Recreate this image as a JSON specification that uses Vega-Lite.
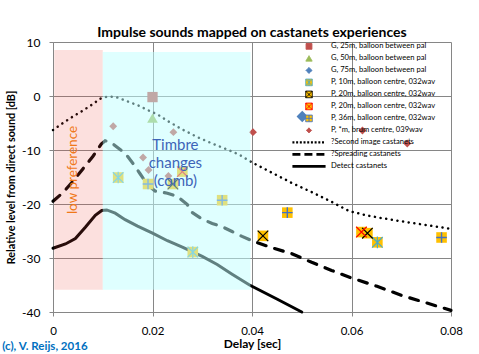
{
  "$schema": "https://vega.github.io/schema/vega-lite/v6.json",
  "width": 398,
  "height": 270,
  "autosize": {"type": "none"},
  "padding": {"left": 53, "top": 42, "right": 28, "bottom": 42},
  "title": {"text": "Impulse sounds mapped on castanets experiences", "font": "Lato", "fontSize": 14, "fontWeight": "bold", "color": "#000000", "anchor": "middle", "frame": "group", "offset": -4},
  "config": {
    "font": "Lato",
    "view": {"stroke": null},
    "axis": {"gridColor": "#868686", "gridWidth": 1, "gridOpacity": 1, "domainColor": "#868686", "tickColor": "#868686", "tickSize": 4, "labelFont": "Lato", "labelFontSize": 12, "labelColor": "#000000", "titleFont": "Lato", "titleFontSize": 12.5, "titleFontWeight": "bold", "titleColor": "#000000"}
  },
  "datasets": {
    "marks": [
      {"s": "G, 25m, balloon between pal", "x": 0.02, "y": -0.2},
      {"s": "G, 50m, balloon between pal", "x": 0.02, "y": -4.1},
      {"s": "G, 75m, balloon between pal", "x": 0.0501, "y": -3.8},
      {"s": "P, *m, brum centre, 039wav", "x": 0.0121, "y": -5.6},
      {"s": "P, *m, brum centre, 039wav", "x": 0.0242, "y": -6.7},
      {"s": "P, *m, brum centre, 039wav", "x": 0.0181, "y": -11.4},
      {"s": "P, *m, brum centre, 039wav", "x": 0.0192, "y": -13.7},
      {"s": "P, *m, brum centre, 039wav", "x": 0.0232, "y": -14.8},
      {"s": "P, *m, brum centre, 039wav", "x": 0.0402, "y": -6.7},
      {"s": "P, *m, brum centre, 039wav", "x": 0.0622, "y": -6.4},
      {"s": "P, *m, brum centre, 039wav", "x": 0.0712, "y": -8.8}
    ],
    "pmarks": [
      {"s": "P, 10m, balloon centre, 032wav", "x": 0.0131, "y": -15.1},
      {"s": "P, 10m, balloon centre, 032wav", "x": 0.0281, "y": -28.9},
      {"s": "P, 10m, balloon centre, 032wav", "x": 0.0652, "y": -27.1},
      {"s": "P, 20m, balloon centre, 032wav", "x": 0.0241, "y": -16.3},
      {"s": "P, 20m, balloon centre, 032wav", "x": 0.0422, "y": -25.9},
      {"s": "P, 20m, balloon centre, 032wav", "x": 0.0632, "y": -25.4},
      {"s": "P, 20m, balloon centre, 032wav ", "x": 0.026, "y": -14.0},
      {"s": "P, 20m, balloon centre, 032wav ", "x": 0.062, "y": -25.2},
      {"s": "P, 36m, balloon centre, 032wav", "x": 0.0191, "y": -16.3},
      {"s": "P, 36m, balloon centre, 032wav", "x": 0.034, "y": -19.3},
      {"s": "P, 36m, balloon centre, 032wav", "x": 0.0471, "y": -21.6},
      {"s": "P, 36m, balloon centre, 032wav", "x": 0.0781, "y": -26.2}
    ],
    "curves": [
      {"s": "?Second image castanets", "x": 0, "y": -6.3},
      {"s": "?Second image castanets", "x": 0.002, "y": -5.0},
      {"s": "?Second image castanets", "x": 0.004, "y": -3.8},
      {"s": "?Second image castanets", "x": 0.006, "y": -2.7},
      {"s": "?Second image castanets", "x": 0.008, "y": -1.5},
      {"s": "?Second image castanets", "x": 0.0095, "y": -0.5},
      {"s": "?Second image castanets", "x": 0.0105, "y": -0.2},
      {"s": "?Second image castanets", "x": 0.0115, "y": -0.1},
      {"s": "?Second image castanets", "x": 0.013, "y": -0.3},
      {"s": "?Second image castanets", "x": 0.015, "y": -1.0},
      {"s": "?Second image castanets", "x": 0.017, "y": -1.7},
      {"s": "?Second image castanets", "x": 0.019, "y": -2.6},
      {"s": "?Second image castanets", "x": 0.021, "y": -3.4},
      {"s": "?Second image castanets", "x": 0.023, "y": -4.6},
      {"s": "?Second image castanets", "x": 0.026, "y": -6.2},
      {"s": "?Second image castanets", "x": 0.029, "y": -7.6},
      {"s": "?Second image castanets", "x": 0.032, "y": -8.8},
      {"s": "?Second image castanets", "x": 0.035, "y": -9.9},
      {"s": "?Second image castanets", "x": 0.0375, "y": -10.9},
      {"s": "?Second image castanets", "x": 0.04, "y": -12.3},
      {"s": "?Second image castanets", "x": 0.044, "y": -14.2},
      {"s": "?Second image castanets", "x": 0.048, "y": -16.1},
      {"s": "?Second image castanets", "x": 0.052, "y": -17.8},
      {"s": "?Second image castanets", "x": 0.056, "y": -19.6},
      {"s": "?Second image castanets", "x": 0.0595, "y": -21.3},
      {"s": "?Second image castanets", "x": 0.063, "y": -22.1},
      {"s": "?Second image castanets", "x": 0.066, "y": -22.6},
      {"s": "?Second image castanets", "x": 0.07, "y": -23.2},
      {"s": "?Second image castanets", "x": 0.075, "y": -23.9},
      {"s": "?Second image castanets", "x": 0.08, "y": -24.6},
      {"s": "?Spreading castanets", "x": 0, "y": -19.5},
      {"s": "?Spreading castanets", "x": 0.002, "y": -17.9},
      {"s": "?Spreading castanets", "x": 0.004, "y": -15.8},
      {"s": "?Spreading castanets", "x": 0.006, "y": -13.5},
      {"s": "?Spreading castanets", "x": 0.008, "y": -11.2},
      {"s": "?Spreading castanets", "x": 0.0097, "y": -8.9},
      {"s": "?Spreading castanets", "x": 0.0105, "y": -8.3},
      {"s": "?Spreading castanets", "x": 0.0115, "y": -8.5},
      {"s": "?Spreading castanets", "x": 0.0125, "y": -9.2},
      {"s": "?Spreading castanets", "x": 0.0145, "y": -10.6},
      {"s": "?Spreading castanets", "x": 0.016, "y": -12.4},
      {"s": "?Spreading castanets", "x": 0.0175, "y": -14.4},
      {"s": "?Spreading castanets", "x": 0.019, "y": -16.4},
      {"s": "?Spreading castanets", "x": 0.0205, "y": -17.6},
      {"s": "?Spreading castanets", "x": 0.023, "y": -18.0},
      {"s": "?Spreading castanets", "x": 0.025, "y": -18.6},
      {"s": "?Spreading castanets", "x": 0.027, "y": -20.1},
      {"s": "?Spreading castanets", "x": 0.028, "y": -21.6},
      {"s": "?Spreading castanets", "x": 0.03, "y": -22.8},
      {"s": "?Spreading castanets", "x": 0.032, "y": -23.6},
      {"s": "?Spreading castanets", "x": 0.034, "y": -24.2},
      {"s": "?Spreading castanets", "x": 0.036, "y": -25.1},
      {"s": "?Spreading castanets", "x": 0.038, "y": -26.0},
      {"s": "?Spreading castanets", "x": 0.04, "y": -26.8},
      {"s": "?Spreading castanets", "x": 0.044, "y": -28.1},
      {"s": "?Spreading castanets", "x": 0.048, "y": -29.2},
      {"s": "?Spreading castanets", "x": 0.052, "y": -30.8},
      {"s": "?Spreading castanets", "x": 0.056, "y": -32.3},
      {"s": "?Spreading castanets", "x": 0.06, "y": -33.7},
      {"s": "?Spreading castanets", "x": 0.065, "y": -35.2},
      {"s": "?Spreading castanets", "x": 0.07, "y": -36.9},
      {"s": "?Spreading castanets", "x": 0.075, "y": -38.3},
      {"s": "?Spreading castanets", "x": 0.08, "y": -39.7},
      {"s": "Detect castanets", "x": 0, "y": -28.2},
      {"s": "Detect castanets", "x": 0.0025, "y": -27.4},
      {"s": "Detect castanets", "x": 0.0045, "y": -26.4},
      {"s": "Detect castanets", "x": 0.0065, "y": -24.3},
      {"s": "Detect castanets", "x": 0.0085, "y": -22.1},
      {"s": "Detect castanets", "x": 0.0098, "y": -21.2},
      {"s": "Detect castanets", "x": 0.0108, "y": -21.1},
      {"s": "Detect castanets", "x": 0.0125, "y": -21.7},
      {"s": "Detect castanets", "x": 0.0145, "y": -22.9},
      {"s": "Detect castanets", "x": 0.017, "y": -24.1},
      {"s": "Detect castanets", "x": 0.02, "y": -25.4},
      {"s": "Detect castanets", "x": 0.023, "y": -26.8},
      {"s": "Detect castanets", "x": 0.026, "y": -28.0},
      {"s": "Detect castanets", "x": 0.03, "y": -29.7},
      {"s": "Detect castanets", "x": 0.033, "y": -31.2},
      {"s": "Detect castanets", "x": 0.036, "y": -33.0},
      {"s": "Detect castanets", "x": 0.0395, "y": -35.0},
      {"s": "Detect castanets", "x": 0.045, "y": -37.6},
      {"s": "Detect castanets", "x": 0.05, "y": -40}
    ]
  },
  "encoding": {
    "x": {"field": "x", "type": "quantitative", "scale": {"domain": [0, 0.08], "nice": false, "zero": false},
      "axis": {"values": [0, 0.02, 0.04, 0.06, 0.08], "labelExpr": "'' + datum.value", "labelFontSize": 11.5, "labelPadding": 9, "titlePadding": 1.5, "titleFontSize": 12, "title": "Delay [sec]", "labelFlush": false}},
    "y": {"field": "y", "type": "quantitative", "scale": {"domain": [-40, 10], "nice": false, "zero": false},
      "axis": {"values": [-40, -30, -20, -10, 0, 10], "labelExpr": "'' + datum.value", "labelPadding": 9, "title": "Relative level from direct sound [dB]", "titleFontSize": 10.8, "titlePadding": 5}}
  },
  "layer": [
    {
      "data": {"name": "curves"},
      "transform": [{"filter": "datum.s == '?Second image castanets'"}],
      "mark": {"type": "line", "color": "#000000", "strokeWidth": 2.5, "strokeDash": [0.1, 5.6], "strokeCap": "round"}
    },
    {
      "data": {"name": "curves"},
      "transform": [{"filter": "datum.s == '?Spreading castanets'"}],
      "mark": {"type": "line", "color": "#000000", "strokeWidth": 3.2, "strokeDash": [9, 9], "strokeCap": "round"}
    },
    {
      "data": {"name": "curves"},
      "transform": [{"filter": "datum.s == 'Detect castanets'"}],
      "mark": {"type": "line", "color": "#000000", "strokeWidth": 3, "strokeCap": "round"}
    },
    {
      "data": {"name": "marks"},
      "transform": [{"filter": "datum.s == 'G, 25m, balloon between pal'"}],
      "mark": {"type": "point", "shape": "square", "filled": true, "color": "#C0504D", "size": 106, "opacity": 1}
    },
    {
      "data": {"name": "marks"},
      "transform": [{"filter": "datum.s == 'G, 50m, balloon between pal'"}],
      "mark": {"type": "point", "shape": "triangle-up", "filled": true, "color": "#9BBB59", "size": 115, "opacity": 1}
    },
    {
      "data": {"name": "marks"},
      "transform": [{"filter": "datum.s == 'G, 75m, balloon between pal'"}],
      "mark": {"type": "point", "shape": "diamond", "filled": true, "color": "#4F81BD", "size": 130, "opacity": 1}
    },
    {
      "data": {"name": "marks"},
      "transform": [{"filter": "datum.s == 'P, *m, brum centre, 039wav'"}],
      "mark": {"type": "point", "shape": "diamond", "filled": true, "color": "#C0504D", "size": 62, "opacity": 1}
    },
    {
      "data": {"name": "pmarks"},
      "mark": {"type": "point", "shape": "square", "filled": true, "color": "#FFC000", "size": 112, "opacity": 1}
    },
    {
      "data": {"name": "pmarks"},
      "transform": [{"filter": "datum.s == 'P, 10m, balloon centre, 032wav'"}],
      "mark": {"type": "point", "shape": "M-1,-1L1,1M1,-1L-1,1M0,-1.1L0,1.1", "filled": false, "color": "#4BACC6", "strokeWidth": 1.2, "size": 112, "opacity": 1}
    },
    {
      "data": {"name": "pmarks"},
      "transform": [{"filter": "datum.s == 'P, 20m, balloon centre, 032wav'"}],
      "mark": {"type": "point", "shape": "M-1,-1L1,1M1,-1L-1,1", "filled": false, "color": "#000000", "strokeWidth": 1.2, "size": 112, "opacity": 1}
    },
    {
      "data": {"name": "pmarks"},
      "transform": [{"filter": "datum.s == 'P, 20m, balloon centre, 032wav '"}],
      "mark": {"type": "point", "shape": "M-1,-1L1,1M1,-1L-1,1", "filled": false, "color": "#FF0000", "strokeWidth": 1.2, "size": 112, "opacity": 1}
    },
    {
      "data": {"name": "pmarks"},
      "transform": [{"filter": "datum.s == 'P, 36m, balloon centre, 032wav'"}],
      "mark": {"type": "point", "shape": "M0,-1L0,1M-1,0L1,0", "filled": false, "color": "#4472C4", "strokeWidth": 1.4, "size": 112, "opacity": 1}
    },
    {
      "data": {"name": "marks"},
      "transform": [{"filter": "false"}],
      "mark": {"type": "point", "opacity": 1},
      "encoding": {
        "shape": {"field": "s", "type": "nominal",
          "scale": {"domain": ["G, 25m, balloon between pal", "G, 50m, balloon between pal", "G, 75m, balloon between pal", "P, 10m, balloon centre, 032wav", "P, 20m, balloon centre, 032wav", "P, 20m, balloon centre, 032wav ", "P, 36m, balloon centre, 032wav", "P, *m, brum centre, 039wav", "?Second image castanets", "?Spreading castanets", "Detect castanets"],
            "range": ["square", "triangle-up", "diamond", "M-1,-1H1V1H-1ZM-0.8,-0.8L0.8,0.8M0.8,-0.8L-0.8,0.8M0,-1L0,1", "M-1,-1H1V1H-1ZM-1,-1L1,1M1,-1L-1,1", "M-1,-1H1V1H-1ZM-1,-1L1,1M1,-1L-1,1", "M-1,-1H1V1H-1ZM0,-1L0,1M-1,0L1,0", "diamond", "stroke", "stroke", "stroke"]},
          "legend": {
            "title": null, "orient": "none", "legendX": 238, "legendY": -1.5, "padding": 0, "rowPadding": 0, "clipHeight": 11.8,
            "labelOffset": 4, "labelFont": "Lato", "labelFontSize": 7.6, "labelColor": "#000000", "labelLimit": 300, "symbolOpacity": 1
          }},
        "fill": {"field": "s", "type": "nominal",
          "scale": {"domain": ["G, 25m, balloon between pal", "G, 50m, balloon between pal", "G, 75m, balloon between pal", "P, 10m, balloon centre, 032wav", "P, 20m, balloon centre, 032wav", "P, 20m, balloon centre, 032wav ", "P, 36m, balloon centre, 032wav", "P, *m, brum centre, 039wav", "?Second image castanets", "?Spreading castanets", "Detect castanets"],
            "range": ["#C0504D", "#9BBB59", "#4F81BD", "#FFC000", "#FFC000", "#FFC000", "#FFC000", "#C0504D", "transparent", "transparent", "transparent"]}},
        "stroke": {"field": "s", "type": "nominal",
          "scale": {"domain": ["G, 25m, balloon between pal", "G, 50m, balloon between pal", "G, 75m, balloon between pal", "P, 10m, balloon centre, 032wav", "P, 20m, balloon centre, 032wav", "P, 20m, balloon centre, 032wav ", "P, 36m, balloon centre, 032wav", "P, *m, brum centre, 039wav", "?Second image castanets", "?Spreading castanets", "Detect castanets"],
            "range": ["#C0504D", "#9BBB59", "#4F81BD", "#4BACC6", "#000000", "#FF0000", "#4472C4", "#C0504D", "#000000", "#000000", "#000000"]}},
        "size": {"field": "s", "type": "nominal",
          "scale": {"type": "ordinal", "domain": ["G, 25m, balloon between pal", "G, 50m, balloon between pal", "G, 75m, balloon between pal", "P, 10m, balloon centre, 032wav", "P, 20m, balloon centre, 032wav", "P, 20m, balloon centre, 032wav ", "P, 36m, balloon centre, 032wav", "P, *m, brum centre, 039wav", "?Second image castanets", "?Spreading castanets", "Detect castanets"],
            "range": [34, 40, 36, 44, 44, 44, 44, 26, 1100, 1100, 1100]}},
        "strokeWidth": {"field": "s", "type": "nominal",
          "scale": {"type": "ordinal", "domain": ["G, 25m, balloon between pal", "G, 50m, balloon between pal", "G, 75m, balloon between pal", "P, 10m, balloon centre, 032wav", "P, 20m, balloon centre, 032wav", "P, 20m, balloon centre, 032wav ", "P, 36m, balloon centre, 032wav", "P, *m, brum centre, 039wav", "?Second image castanets", "?Spreading castanets", "Detect castanets"],
            "range": [1, 1, 1, 1, 1, 1, 1, 1, 2.2, 2.6, 2.6]}},
        "strokeDash": {"field": "s", "type": "nominal",
          "scale": {"domain": ["G, 25m, balloon between pal", "G, 50m, balloon between pal", "G, 75m, balloon between pal", "P, 10m, balloon centre, 032wav", "P, 20m, balloon centre, 032wav", "P, 20m, balloon centre, 032wav ", "P, 36m, balloon centre, 032wav", "P, *m, brum centre, 039wav", "?Second image castanets", "?Spreading castanets", "Detect castanets"],
            "range": [[1, 0], [1, 0], [1, 0], [1, 0], [1, 0], [1, 0], [1, 0], [1, 0], [2, 1.7], [8, 4], [1, 0]]}}
      }
    },
    {
      "data": {"values": [{"x": 0.00025, "x2": 0.01, "y": 8.5, "y2": -35.9}]},
      "mark": {"type": "rect", "color": "#F04A3C", "opacity": 0.17},
      "encoding": {"x2": {"field": "x2"}, "y2": {"field": "y2"}}
    },
    {
      "data": {"values": [{"x": 0.01, "x2": 0.0397, "y": 8.15, "y2": -35.9}]},
      "mark": {"type": "rect", "color": "#C0FFFF", "opacity": 0.5},
      "encoding": {"x2": {"field": "x2"}, "y2": {"field": "y2"}}
    },
    {
      "data": {"values": [{"x": 0.0246, "y": -9.1, "label": "Timbre\nchanges\n(comb)"}]},
      "mark": {"type": "text", "font": "Lato", "fontSize": 15, "color": "#3D64B8", "lineBreak": "\n", "lineHeight": 18, "align": "center", "baseline": "middle"},
      "encoding": {"text": {"field": "label"}}
    },
    {
      "data": {"values": [{"x": 0.004, "y": -13.7, "label": "low preference"}]},
      "mark": {"type": "text", "font": "Lato", "fontSize": 13.5, "color": "#F07818", "angle": 270, "align": "center", "baseline": "middle"},
      "encoding": {"text": {"field": "label"}}
    },
    {
      "data": {"values": [{"x": -0.0102, "y": -46.4, "label": "(c), V. Reijs, 2016"}]},
      "mark": {"type": "text", "font": "Lato", "fontSize": 11.5, "fontWeight": "bold", "color": "#0070C0", "align": "left", "baseline": "middle"},
      "encoding": {"text": {"field": "label"}}
    }
  ]
}
